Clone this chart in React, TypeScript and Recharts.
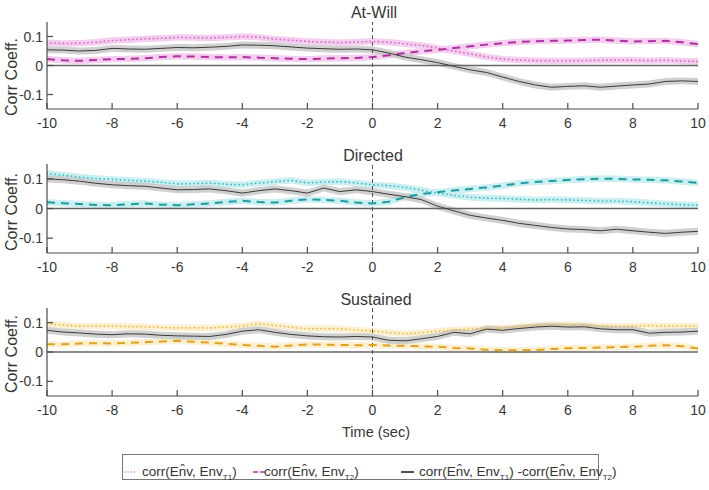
import React from "react";
import {
  ComposedChart,
  Line,
  Area,
  XAxis,
  YAxis,
  ReferenceLine,
} from "recharts";

// time axis (sec), one reading every half second
const TIME = [
  -10, -9.5, -9, -8.5, -8, -7.5, -7, -6.5, -6, -5.5, -5, -4.5, -4, -3.5, -3,
  -2.5, -2, -1.5, -1, -0.5, 0, 0.5, 1, 1.5, 2, 2.5, 3, 3.5, 4, 4.5, 5, 5.5, 6,
  6.5, 7, 7.5, 8, 8.5, 9, 9.5, 10,
];
const X_TICKS = [-10, -8, -6, -4, -2, 0, 2, 4, 6, 8, 10];
const Y_TICKS = [-0.1, 0, 0.1];

// At-Will
const ATWILL_T1 = [
  0.079, 0.076, 0.077, 0.08, 0.086, 0.089, 0.092, 0.094, 0.097, 0.096, 0.095,
  0.097, 0.1, 0.098, 0.091, 0.087, 0.083, 0.081, 0.079, 0.081, 0.083, 0.08,
  0.075, 0.069, 0.06, 0.05, 0.04, 0.03, 0.022, 0.019, 0.017, 0.016, 0.016,
  0.017, 0.018, 0.019, 0.018, 0.017, 0.018, 0.016, 0.014,
];
const ATWILL_T2 = [
  0.022, 0.018, 0.016, 0.019, 0.022, 0.023, 0.025, 0.029, 0.032, 0.031, 0.029,
  0.028, 0.029, 0.027, 0.025, 0.023, 0.022, 0.024, 0.025, 0.026, 0.029, 0.035,
  0.043, 0.049, 0.054, 0.06, 0.066, 0.072, 0.077, 0.081, 0.084, 0.085, 0.086,
  0.088, 0.089, 0.086, 0.083, 0.084, 0.085, 0.08, 0.074,
];
const ATWILL_DIFF = [
  0.054, 0.053, 0.05, 0.052, 0.059, 0.057, 0.056, 0.059, 0.062, 0.061, 0.063,
  0.066, 0.071, 0.07, 0.068, 0.064, 0.06, 0.058, 0.056, 0.057, 0.054, 0.043,
  0.029, 0.02, 0.01, -0.003, -0.015, -0.024, -0.04, -0.055, -0.067, -0.075,
  -0.072, -0.07, -0.075, -0.071, -0.067, -0.064, -0.055, -0.053, -0.055,
];

// Directed
const DIRECTED_T1 = [
  0.118, 0.112, 0.106, 0.101, 0.098, 0.095, 0.092, 0.088, 0.083, 0.084, 0.086,
  0.082, 0.08, 0.086, 0.09, 0.095, 0.086, 0.089, 0.091, 0.086, 0.08, 0.077,
  0.071, 0.062, 0.052, 0.044, 0.038, 0.035, 0.034, 0.031, 0.029, 0.03, 0.029,
  0.027, 0.025, 0.025, 0.023, 0.019, 0.016, 0.013, 0.011,
];
const DIRECTED_T2 = [
  0.021, 0.018, 0.015, 0.012, 0.011, 0.014, 0.017, 0.013, 0.011, 0.014, 0.017,
  0.022, 0.026, 0.022, 0.02, 0.026, 0.031, 0.029, 0.026, 0.02, 0.017, 0.023,
  0.038, 0.049, 0.055, 0.061, 0.066, 0.071, 0.077, 0.085, 0.089, 0.093, 0.096,
  0.099, 0.1, 0.1, 0.098, 0.097, 0.095, 0.091, 0.086,
];
const DIRECTED_DIFF = [
  0.1, 0.097, 0.092, 0.085, 0.08, 0.077, 0.075, 0.069, 0.063, 0.064, 0.066,
  0.06, 0.052, 0.06, 0.066, 0.06, 0.052, 0.069, 0.057, 0.063, 0.057, 0.048,
  0.04, 0.03, 0.008, -0.008, -0.023, -0.032, -0.04, -0.05, -0.057, -0.064,
  -0.069, -0.071, -0.075, -0.07, -0.075, -0.08, -0.084, -0.08, -0.077,
];

// Sustained
const SUSTAINED_T1 = [
  0.096, 0.092, 0.088, 0.089, 0.088, 0.087, 0.086, 0.084, 0.082, 0.083, 0.082,
  0.085, 0.088, 0.096, 0.09, 0.084, 0.079, 0.08, 0.079, 0.075, 0.071, 0.066,
  0.062, 0.065, 0.071, 0.075, 0.078, 0.08, 0.082, 0.086, 0.09, 0.093, 0.094,
  0.091, 0.088, 0.088, 0.088, 0.09, 0.088, 0.089, 0.088,
];
const SUSTAINED_T2 = [
  0.026, 0.026, 0.029, 0.03, 0.029, 0.031, 0.033, 0.036, 0.038, 0.035, 0.032,
  0.028, 0.024, 0.021, 0.018, 0.022, 0.026, 0.025, 0.024, 0.023, 0.024, 0.022,
  0.021, 0.019, 0.018, 0.014, 0.012, 0.008, 0.006, 0.006, 0.007, 0.01, 0.013,
  0.014, 0.015, 0.017, 0.018, 0.021, 0.023, 0.02, 0.012,
];
const SUSTAINED_DIFF = [
  0.074, 0.068, 0.065, 0.061, 0.059, 0.062, 0.061, 0.057, 0.055, 0.054, 0.053,
  0.06, 0.071, 0.076, 0.067, 0.06, 0.055, 0.052, 0.051, 0.053, 0.051, 0.04,
  0.038, 0.045, 0.053, 0.067, 0.062, 0.078, 0.074, 0.08, 0.085, 0.088, 0.085,
  0.086, 0.079, 0.076, 0.076, 0.064, 0.067, 0.068, 0.071,
];

// half-width of the shaded error bands
const SEM_T = 0.011;
const SEM_DIFF = 0.012;

const FONT = "'Liberation Sans', Arial, Helvetica, sans-serif";
const AXIS = "#4a4a4a";
const TEXT = "#363636";
const DIFF_COLOR = "#3a3a3a";
const DIFF_BAND = "#c4c4c4";

const buildRows = (t1: number[], t2: number[], diff: number[]) =>
  TIME.map((t, i) => ({
    t,
    t1: t1[i],
    t2: t2[i],
    diff: diff[i],
    t1Band: [t1[i] - SEM_T, t1[i] + SEM_T],
    t2Band: [t2[i] - SEM_T, t2[i] + SEM_T],
    diffBand: [diff[i] - SEM_DIFF, diff[i] + SEM_DIFF],
  }));

const XTick = (props: any) => {
  const { x, y, payload } = props;
  return (
    <g>
      <line x1={x} x2={x} y1={y} y2={y - 6} stroke={AXIS} strokeWidth={1.2} />
      <text
        x={x}
        y={y + 19}
        textAnchor="middle"
        fontSize={14}
        fontFamily={FONT}
        fill={TEXT}
      >
        {payload.value}
      </text>
    </g>
  );
};

const YTick = (props: any) => {
  const { x, y, payload } = props;
  return (
    <g>
      <line x1={x} x2={x + 6} y1={y} y2={y} stroke={AXIS} strokeWidth={1.2} />
      <text
        x={x - 4}
        y={y + 5}
        textAnchor="end"
        fontSize={14}
        fontFamily={FONT}
        fill={TEXT}
      >
        {payload.value}
      </text>
    </g>
  );
};

interface PanelProps {
  rows: ReturnType<typeof buildRows>;
  top: number;
  height: number;
  marginTop: number;
  line: string;
  dots: string;
  band: string;
}

function Panel({ rows, top, height, marginTop, line, dots, band }: PanelProps) {
  return (
    <div style={{ position: "absolute", left: 0, top }}>
      <ComposedChart
        width={709}
        height={height}
        data={rows}
        margin={{ top: marginTop, right: 11, bottom: 0, left: 0 }}
      >
        <XAxis
          dataKey="t"
          type="number"
          domain={[-10, 10]}
          ticks={X_TICKS}
          height={31}
          tickSize={0}
          tickMargin={0}
          tickLine={false}
          tick={<XTick />}
          axisLine={{ stroke: AXIS, strokeWidth: 1.2 }}
          allowDataOverflow
        />
        <YAxis
          type="number"
          domain={[-0.15, 0.15]}
          ticks={Y_TICKS}
          width={47}
          tickSize={0}
          tickMargin={0}
          tickLine={false}
          tick={<YTick />}
          axisLine={{ stroke: AXIS, strokeWidth: 1.2 }}
          allowDataOverflow
        />
        <Area
          dataKey="t1Band"
          type="linear"
          stroke="none"
          fill={band}
          fillOpacity={1}
          isAnimationActive={false}
          activeDot={false}
        />
        <Area
          dataKey="t2Band"
          type="linear"
          stroke="none"
          fill={band}
          fillOpacity={1}
          isAnimationActive={false}
          activeDot={false}
        />
        <Area
          dataKey="diffBand"
          type="linear"
          stroke="none"
          fill={DIFF_BAND}
          fillOpacity={0.8}
          isAnimationActive={false}
          activeDot={false}
        />
        <ReferenceLine y={0} stroke="#666" strokeWidth={1.3} />
        <ReferenceLine
          x={0}
          stroke="#555"
          strokeWidth={1}
          strokeDasharray="4 3"
        />
        <Line
          dataKey="t1"
          type="linear"
          stroke={dots}
          strokeWidth={1.8}
          strokeDasharray="0.1 4"
          strokeLinecap="round"
          dot={false}
          activeDot={false}
          isAnimationActive={false}
        />
        <Line
          dataKey="t2"
          type="linear"
          stroke={line}
          strokeWidth={2}
          strokeDasharray="8 6"
          dot={false}
          activeDot={false}
          isAnimationActive={false}
        />
        <Line
          dataKey="diff"
          type="linear"
          stroke={DIFF_COLOR}
          strokeWidth={1}
          dot={false}
          activeDot={false}
          isAnimationActive={false}
        />
      </ComposedChart>
    </div>
  );
}

const textStyle: React.CSSProperties = {
  position: "absolute",
  fontFamily: FONT,
  fontWeight: 400,
  color: TEXT,
  whiteSpace: "nowrap",
};

const Title = ({ text, x, top }: { text: string; x: number; top: number }) => (
  <div
    style={{
      ...textStyle,
      left: x,
      top,
      fontSize: 16,
      lineHeight: "16px",
      transform: "translateX(-50%)",
    }}
  >
    {text}
  </div>
);

const YLabel = ({ cy }: { cy: number }) => (
  <div
    style={{
      ...textStyle,
      left: 12,
      top: cy,
      fontSize: 16,
      lineHeight: "16px",
      transform: "translate(-50%, -50%) rotate(-90deg)",
    }}
  >
    Corr Coeff.
  </div>
);

// Env with a hat over it, kept as one piece of text
const ENV_HAT = "En\u0302v";

function LegendBox() {
  const entry = (sub: string) => (
    <>
      {"corr(" + ENV_HAT + ", Env"}
      <sub style={{ fontSize: 8, verticalAlign: "-4px" }}>{sub}</sub>
      {")"}
    </>
  );
  const item: React.CSSProperties = {
    ...textStyle,
    color: "#333",
    top: 9,
    lineHeight: "15px",
  };
  return (
    <div
      style={{
        position: "absolute",
        left: 122,
        top: 454,
        width: 475,
        height: 24,
        border: "1px solid #777",
        fontFamily: FONT,
        fontSize: 13.5,
        color: "#333",
      }}
    >
      <svg
        width={400}
        height={24}
        style={{ position: "absolute", left: 0, top: 0 }}
      >
        <line
          x1={2}
          x2={14}
          y1={17}
          y2={17}
          stroke="#d67fcb"
          strokeWidth={1.5}
          strokeDasharray="0.1 3"
          strokeLinecap="round"
        />
        <line
          x1={130}
          x2={142}
          y1={17}
          y2={17}
          stroke="#b0309f"
          strokeWidth={1.6}
          strokeDasharray="5 2"
        />
        <line
          x1={278}
          x2={291}
          y1={17}
          y2={17}
          stroke={DIFF_COLOR}
          strokeWidth={1.8}
        />
      </svg>
      <div style={{ ...item, left: 19 }}>{entry("T1")}</div>
      <div style={{ ...item, left: 141 }}>{entry("T2")}</div>
      <div style={{ ...item, left: 296 }}>
        {entry("T1")} -{entry("T2")}
      </div>
    </div>
  );
}

export default function App() {
  const atWill = buildRows(ATWILL_T1, ATWILL_T2, ATWILL_DIFF);
  const directed = buildRows(DIRECTED_T1, DIRECTED_T2, DIRECTED_DIFF);
  const sustained = buildRows(SUSTAINED_T1, SUSTAINED_T2, SUSTAINED_DIFF);

  return (
    <div
      style={{
        position: "absolute",
        left: 0,
        top: 0,
        width: 709,
        height: 490,
        background: "#fff",
        overflow: "hidden",
      }}
    >
      <Panel
        rows={atWill}
        top={0}
        height={140}
        marginTop={22}
        line="#b0309f"
        dots="#cf6ec4"
        band="#f4cdef"
      />
      <Panel
        rows={directed}
        top={140}
        height={144}
        marginTop={24}
        line="#1a9ea3"
        dots="#35bfc4"
        band="#cbeef0"
      />
      <Panel
        rows={sustained}
        top={280}
        height={147}
        marginTop={28}
        line="#e2a11b"
        dots="#efbd3c"
        band="#fcefd2"
      />
      <Title text="At-Will" x={374} top={5} />
      <Title text="Directed" x={373} top={148} />
      <Title text="Sustained" x={376} top={292} />
      <YLabel cy={77} />
      <YLabel cy={212} />
      <YLabel cy={354} />
      <div
        style={{
          ...textStyle,
          left: 376,
          top: 425,
          fontSize: 14.5,
          lineHeight: "15px",
          transform: "translateX(-50%)",
        }}
      >
        Time (sec)
      </div>
      <LegendBox />
    </div>
  );
}
